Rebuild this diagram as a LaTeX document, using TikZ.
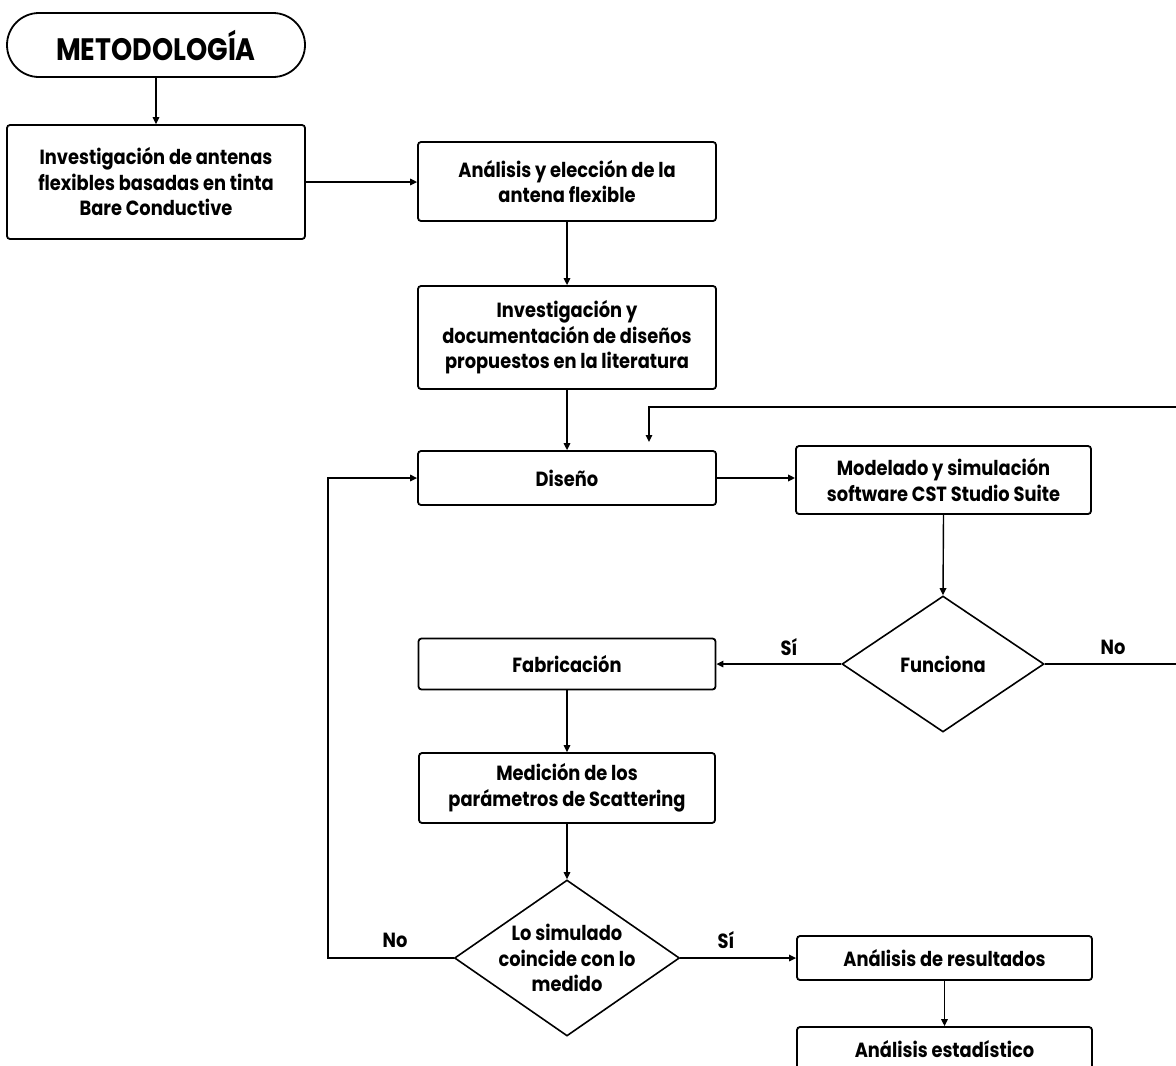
\documentclass[tikz,border=0pt]{standalone}
\usepackage{fontspec}
\setmainfont{Poppins}[FakeStretch=0.87]
\usetikzlibrary{shapes.geometric,arrows.meta}
\tikzset{
  boxn/.style={draw, line width=1.8pt, rounded corners=3pt, inner sep=0pt, align=center,
    font=\bfseries\fontsize{20.5}{25.5}\selectfont},
  decn/.style={draw, diamond, line width=1.6pt, inner sep=0pt, align=center,
    font=\bfseries\fontsize{20.5}{25.5}\selectfont},
  lbl/.style={inner sep=0pt, font=\bfseries\fontsize{20.5}{24}\selectfont},
  conn/.style={line width=1.4pt},
  arr/.style={conn, -{Triangle[length=7pt,width=6.5pt]}}
}
\begin{document}
\begin{tikzpicture}[x=1pt,y=-1pt]
\useasboundingbox (0,0) rectangle (1176,1066);
\fill[white] (0,0) rectangle (1176,1066);
\clip (0,0) rectangle (1176,1066);

\node[draw, line width=1.8pt, rounded corners=32pt, minimum width=298pt, minimum height=64pt,
  inner sep=0pt, font=\bfseries\fontsize{31}{34}\selectfont] (met) at (156,45) {METODOLOGÍA};
\node[boxn, minimum width=298pt, minimum height=114pt] (inv) at (156,182)
  {Investigación de antenas\\flexibles basadas en tinta\\Bare Conductive};
\node[boxn, minimum width=298pt, minimum height=79pt] (ana) at (567,181.5)
  {Análisis y elección de la\\antena flexible};
\node[boxn, minimum width=298pt, minimum height=103pt] (doc) at (567,337.5)
  {Investigación y\\documentación de diseños\\propuestos en la literatura};
\node[boxn, minimum width=298pt, minimum height=54pt] (dis) at (567,478) {Diseño};
\node[boxn, minimum width=295pt, minimum height=68pt] (mod) at (943.5,480)
  {Modelado y simulación\\software CST Studio Suite};
\node[decn, minimum width=202pt, minimum height=136pt] (fun) at (943,664) {Funciona};
\node[boxn, minimum width=297pt, minimum height=51pt] (fab) at (567,664) {Fabricación};
\node[boxn, minimum width=296pt, minimum height=70pt] (med) at (567,788)
  {Medición de los\\parámetros de Scattering};
\node[decn, minimum width=225pt, minimum height=156pt] (lo) at (567,958) {};
\node[lbl, align=center, font=\bfseries\fontsize{20.5}{25.5}\selectfont] (lotext) at (lo.center)
  {Lo simulado\\coincide con lo\\medido};
\node[boxn, minimum width=295pt, minimum height=44pt] (res) at (944.5,958) {Análisis de resultados};
\node[boxn, minimum width=295pt, minimum height=44pt] (est) at (944.5,1049) {Análisis estadístico};

\node[lbl] (si1) at (789,647) {Sí};
\node[lbl] (no1) at (1113,647) {No};
\node[lbl] (no2) at (395,940) {No};
\node[lbl] (si2) at (726,940) {Sí};

\coordinate (loopR) at (1190,407);
\coordinate (loopT) at (649,442);
\coordinate (loopL) at (328,958);

\draw[arr] (met.south) -- (inv.north);
\draw[arr] (inv.east) -- (inv.east -| ana.west);
\draw[arr] (ana.south) -- (doc.north);
\draw[arr] (doc.south) -- (dis.north);
\draw[arr, line width=1.8pt] (dis.east) -- (dis.east -| mod.west);
\draw[arr] (mod.south) -- (fun.north);
\draw[arr] (fun.west) -- (fab.east);
\draw[arr] (fab.south) -- (med.north);
\draw[arr] (med.south) -- (lo.north);
\draw[arr] (lo.east) -- (res.west);
\draw[arr] (res.south) -- (est.north);
\draw[arr] (lo.west) -- (loopL) |- (dis.west);
\draw[arr] (fun.east) -- (fun.east -| loopR) -- (loopR) -- (loopR -| loopT) -- (loopT);
\end{tikzpicture}
\end{document}
